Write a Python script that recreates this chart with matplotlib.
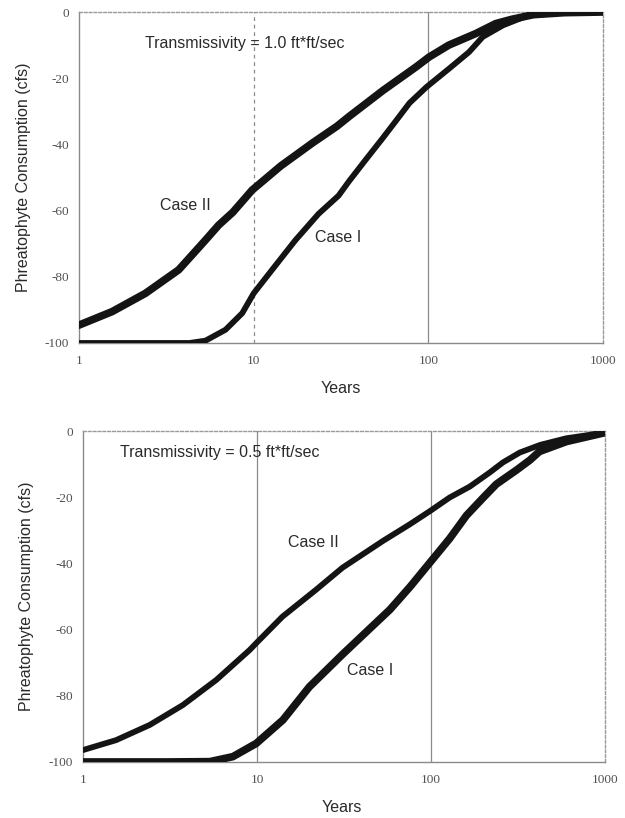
import matplotlib
matplotlib.use("Agg")
import matplotlib.pyplot as plt

# ---- Data ----
# Top panel: Transmissivity = 1.0 ft*ft/sec
top_case2_x = [1, 1.55, 2.4, 3.72, 5.3, 6.3, 7.6, 9.8, 14.3, 21.8, 30, 35.3, 55, 85, 101, 131, 187, 243, 300, 400, 600, 1000]
top_case2_y = [-94.6, -90.5, -85, -77.9, -68.9, -64.4, -60.5, -53.8, -46.5, -39.5, -34.5, -31.5, -23.7, -16.6, -13.6, -10, -6.5, -3.5, -2.2, -0.8, -0.2, 0]

top_case1_x = [1, 3, 4.3, 5.3, 6.9, 8.6, 10, 12.7, 17.3, 23.5, 30.6, 35.3, 44, 55, 65, 78, 97.4, 131.5, 171, 205, 268, 390, 600, 1000]
top_case1_y = [-100, -100, -100, -99.3, -96, -91, -85, -78, -69, -61, -55.5, -51, -44.5, -38, -33, -27.5, -22.7, -17.1, -12.1, -7.5, -4, -0.6, -0.1, 0]

# Bottom panel: Transmissivity = 0.5 ft*ft/sec
bot_case2_x = [1, 1.55, 2.42, 3.75, 5.84, 9.06, 9.9, 14, 21.8, 31, 53, 75.5, 98.6, 128, 167, 218, 259, 324, 424, 600, 1000]
bot_case2_y = [-96.4, -93.4, -88.8, -82.8, -75.2, -66.2, -64.1, -56.1, -48, -41.3, -33.2, -28.2, -24.2, -20.1, -16.8, -12.5, -9.5, -6.5, -4.2, -2.2, -0.5]

bot_case1_x = [1, 3, 5.35, 7.26, 9.9, 14.1, 20, 31, 46.4, 58, 76, 96, 128, 160, 200, 237, 270, 310, 370, 420, 600, 1000]
bot_case1_y = [-100, -100, -99.9, -98.4, -94.4, -87.3, -77.3, -67.5, -58.8, -54, -47, -40.5, -32.5, -25.5, -20.1, -16.1, -14, -11.8, -8.8, -6.2, -3.2, -0.5]

x_ticks = [1, 10, 100, 1000]
x_tick_labels = ["1", "10", "100", "1000"]
y_ticks = [-100, -80, -60, -40, -20, 0]
y_tick_labels = ["-100", "-80", "-60", "-40", "-20", "0"]

panel_titles = ["Transmissivity = 1.0 ft*ft/sec", "Transmissivity = 0.5 ft*ft/sec"]

# ---- Figure ----
fig = plt.figure(figsize=(6.25, 8.18), dpi=100)
ax_top = fig.add_axes([0.1264, 0.5807, 0.8384, 0.4046])
ax_bot = fig.add_axes([0.1328, 0.0685, 0.8352, 0.4046])

sans = "Liberation Sans"
serif = "Liberation Serif"
ink = "#141414"
grey = "#8a8a8a"
txt = "#2a2a2a"


def style(ax, dotted10=False):
    ax.set_xscale("log")
    ax.set_xlim(1, 1000)
    ax.set_ylim(-100, 0)
    ax.set_xticks(x_ticks)
    ax.set_xticklabels(x_tick_labels)
    ax.set_yticks(y_ticks)
    ax.set_yticklabels(y_tick_labels)
    ax.minorticks_off()
    ax.tick_params(axis="y", length=0, pad=7, labelsize=9.5, colors="#505050")
    ax.tick_params(axis="x", length=0, pad=9, labelsize=9.5, colors="#505050")
    for lab in ax.get_xticklabels() + ax.get_yticklabels():
        lab.set_fontfamily(serif)
    for name, s in ax.spines.items():
        s.set_color(grey if name in ("left", "bottom") else "#9a9a9a")
        s.set_linewidth(1.0)
        if name in ("top", "right"):
            s.set_linestyle((0, (2, 1.5)))
    ax.axvline(10, color=grey, lw=0.9, zorder=1,
               linestyle=(0, (3, 3)) if dotted10 else "-")
    ax.axvline(100, color=grey, lw=0.9, zorder=1)
    ax.set_xlabel("Years", fontfamily=sans, fontsize=11.5, color=txt)
    ax.set_ylabel("Phreatophyte Consumption (cfs)", fontfamily=sans, fontsize=11.5, color=txt)


style(ax_top, dotted10=True)
style(ax_bot)

ax_top.xaxis.set_label_coords(0.50, -0.115)
ax_bot.xaxis.set_label_coords(0.495, -0.115)
ax_top.yaxis.set_label_coords(-0.092, 0.5)
ax_bot.yaxis.set_label_coords(-0.094, 0.5)

# curves
ax_top.plot(top_case2_x, top_case2_y, color=ink, lw=5.5, solid_capstyle="round", solid_joinstyle="round", zorder=3)
ax_top.plot(top_case1_x, top_case1_y, color=ink, lw=4.2, solid_capstyle="round", solid_joinstyle="round", zorder=3)
ax_bot.plot(bot_case2_x, bot_case2_y, color=ink, lw=4.2, solid_capstyle="round", solid_joinstyle="round", zorder=3)
ax_bot.plot(bot_case1_x, bot_case1_y, color=ink, lw=5.5, solid_capstyle="round", solid_joinstyle="round", zorder=3)

# annotations
ax_top.text(2.38, -9.4, panel_titles[0], fontfamily=sans, fontsize=11.5, color=txt, va="center")
ax_top.text(2.9, -58.6, "Case II", fontfamily=sans, fontsize=11.5, color=txt, va="center")
ax_top.text(22.3, -68, "Case I", fontfamily=sans, fontsize=11.5, color=txt, va="center")

ax_bot.text(1.63, -6.6, panel_titles[1], fontfamily=sans, fontsize=11.5, color=txt, va="center")
ax_bot.text(15.1, -33.8, "Case II", fontfamily=sans, fontsize=11.5, color=txt, va="center")
ax_bot.text(32.9, -72.5, "Case I", fontfamily=sans, fontsize=11.5, color=txt, va="center")

fig.savefig("out.png", dpi=100)
